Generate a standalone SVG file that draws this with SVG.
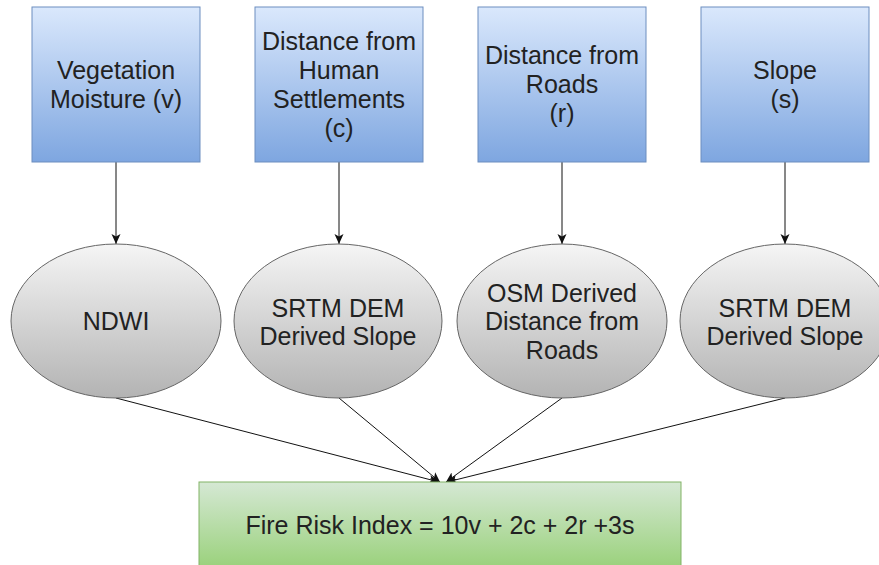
<svg xmlns="http://www.w3.org/2000/svg" width="879" height="565" viewBox="0 0 879 565">
<style>
.t{font-family:"Liberation Sans",Arial,sans-serif;font-size:25px;fill:#222;text-anchor:middle}
.box{fill:url(#gb);stroke:#6c8ebf;stroke-width:1}
.ell{fill:url(#gg);stroke:#666;stroke-width:1}
.res{fill:url(#gr);stroke:#82b366;stroke-width:1}
.c{stroke:#111;stroke-width:1;fill:none;marker-end:url(#ah)}
</style>
<defs>
<linearGradient id="gb" x1="0" y1="0" x2="0" y2="1"><stop offset="0" stop-color="#dae8fc"/><stop offset="1" stop-color="#7ea6e0"/></linearGradient>
<linearGradient id="gg" x1="0" y1="0" x2="0" y2="1"><stop offset="0" stop-color="#f5f5f5"/><stop offset="1" stop-color="#b3b3b3"/></linearGradient>
<linearGradient id="gr" x1="0" y1="0" x2="0" y2="1"><stop offset="0" stop-color="#d5e8d4"/><stop offset="1" stop-color="#97d077"/></linearGradient>
<marker id="ah" markerUnits="userSpaceOnUse" markerWidth="12" markerHeight="10" refX="10" refY="5" orient="auto" viewBox="0 0 12 10">
<path d="M0,0.5 L10,5 L0,9.5 L2.5,5 Z" fill="#111"/>
</marker>
</defs>
<rect width="879" height="565" fill="#fff"/>
<g id="connectors">
<line class="c" x1="116" y1="162" x2="116" y2="244"/>
<line class="c" x1="339" y1="162" x2="339" y2="244"/>
<line class="c" x1="562" y1="162" x2="562" y2="244"/>
<line class="c" x1="785" y1="162" x2="785" y2="244"/>
<line class="c" x1="116" y1="398" x2="439" y2="482"/>
<line class="c" x1="339" y1="398" x2="440" y2="482"/>
<line class="c" x1="562" y1="398" x2="446" y2="482"/>
<line class="c" x1="785" y1="398" x2="447" y2="482"/>
</g>
<g id="n1"><rect class="box" x="32" y="7" width="168" height="155"/>
<text class="t" x="116" y="79">Vegetation</text><text class="t" x="116" y="108">Moisture (v)</text></g>
<g id="n2"><rect class="box" x="255" y="7" width="168" height="155"/>
<text class="t" x="339" y="50">Distance from</text><text class="t" x="339" y="79">Human</text><text class="t" x="339" y="108">Settlements</text><text class="t" x="339" y="137">(c)</text></g>
<g id="n3"><rect class="box" x="478" y="7" width="168" height="155"/>
<text class="t" x="562" y="64">Distance from</text><text class="t" x="562" y="93">Roads</text><text class="t" x="562" y="122">(r)</text></g>
<g id="n4"><rect class="box" x="701" y="7" width="168" height="155"/>
<text class="t" x="785" y="79">Slope</text><text class="t" x="785" y="108">(s)</text></g>
<g id="e1"><ellipse class="ell" cx="116" cy="321" rx="105" ry="77"/>
<text class="t" x="116" y="330">NDWI</text></g>
<g id="e2"><ellipse class="ell" cx="338" cy="321" rx="104" ry="77"/>
<text class="t" x="338" y="317">SRTM DEM</text><text class="t" x="338" y="345">Derived Slope</text></g>
<g id="e3"><ellipse class="ell" cx="562" cy="321" rx="105" ry="77"/>
<text class="t" x="562" y="302">OSM Derived</text><text class="t" x="562" y="330">Distance from</text><text class="t" x="562" y="359">Roads</text></g>
<g id="e4"><ellipse class="ell" cx="785" cy="321" rx="105" ry="77"/>
<text class="t" x="785" y="317">SRTM DEM</text><text class="t" x="785" y="345">Derived Slope</text></g>
<g id="result"><rect class="res" x="199" y="482" width="482" height="90"/>
<text class="t" x="440" y="534">Fire Risk Index = 10v + 2c + 2r +3s</text></g>
</svg>
